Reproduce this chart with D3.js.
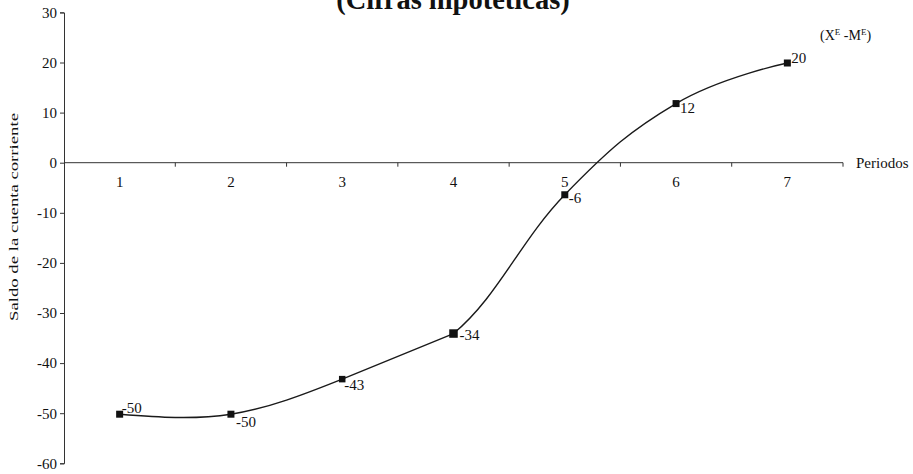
<!DOCTYPE html>
<html><head><meta charset="utf-8">
<script src="https://cdn.jsdelivr.net/npm/d3@7"></script>
<style>
html,body{margin:0;padding:0;background:#fff;}
svg{display:block;font-family:"Liberation Serif","Times New Roman",serif;}
</style></head>
<body>
<svg id="chart" width="913" height="474"></svg>
<script>
const categories = ["1","2","3","4","5","6","7"];
const values = [-50.2, -50.2, -43.2, -34.1, -6.4, 11.8, 19.9];
const valueLabels = ["-50","-50","-43","-34","-6","12","20"];
const yTicks = [30,20,10,0,-10,-20,-30,-40,-50,-60];
const titleText = "(Cifras hipotéticas)";
const yTitle = "Saldo de la cuenta corriente";
const xTitle = "Periodos";

(function(){
const svg = d3.select("#chart");
const mLeft = 64, mRight = 843, mTop = 12.4, mBottom = 463.3;
const ink = "#111", axisCol = "#333";

const x = d3.scaleBand().domain(categories).range([mLeft, mRight]);
const y = d3.scaleLinear().domain([-60, 30]).range([mBottom, mTop]);

// Title (cropped at top edge as in reference)
const title = svg.append("text")
  .attr("x", 456).attr("y", 9)
  .attr("text-anchor", "middle")
  .attr("font-size", 28.5).attr("font-weight", "bold").attr("fill", ink);
title.append("tspan").text(titleText);
title.append("tspan").attr("font-size", 12).attr("dy", -13).text("a");

// Y axis
const yAxis = d3.axisLeft(y).tickValues(yTicks).tickSize(4).tickPadding(3).tickFormat(d => String(d));
const gy = svg.append("g").attr("transform", `translate(${mLeft},0)`).call(yAxis);
gy.select(".domain").attr("stroke", axisCol);
gy.selectAll(".tick line").attr("stroke", axisCol);
gy.selectAll(".tick text").attr("font-size", 15).attr("font-family", "Liberation Serif").attr("fill", ink);

// X axis at y=0 with ticks at category boundaries
const gx = svg.append("g").attr("transform", `translate(0,${y(0)})`);
gx.append("line").attr("x1", mLeft).attr("x2", mRight).attr("stroke", axisCol);
const boundaries = categories.map(c => x(c) + x.bandwidth());
gx.selectAll("line.tk").data(boundaries).join("line").attr("class","tk")
  .attr("x1", d => d).attr("x2", d => d).attr("y1", 0).attr("y2", 4).attr("stroke", axisCol);
gx.selectAll("text.cat").data(categories).join("text").attr("class","cat")
  .attr("x", d => x(d) + x.bandwidth()/2).attr("y", 24)
  .attr("text-anchor", "middle").attr("font-size", 15).attr("fill", ink).text(d => d);
gx.append("text").attr("x", mRight + 13).attr("y", 5).attr("font-size", 15).attr("fill", ink).text(xTitle);

// Y axis title
svg.append("text").attr("transform", `translate(18,217) rotate(-90)`)
  .attr("text-anchor", "middle").attr("font-size", 13).attr("fill", ink)
  .attr("textLength", 208).attr("lengthAdjust", "spacingAndGlyphs")
  .text(yTitle);

// Series label (X^E - M^E)
const sl = svg.append("text").attr("x", 820).attr("y", 40).attr("font-size", 14).attr("fill", ink);
sl.append("tspan").text("(X");
sl.append("tspan").attr("font-size", 9).attr("dy", -5).text("E");
sl.append("tspan").attr("dy", 5).text(" -M");
sl.append("tspan").attr("font-size", 9).attr("dy", -5).text("E");
sl.append("tspan").attr("dy", 5).text(")");

// Line data
const data = categories.map((c, i) => ({c, v: values[i], l: valueLabels[i]}));
const cx = d => x(d.c) + x.bandwidth()/2;

// First part (periods 1-4), smooth
const lineA = d3.line().x(cx).y(d => y(d.v)).curve(d3.curveNatural);
svg.append("path").datum(data.slice(0, 4)).attr("d", lineA).attr("fill", "none")
  .attr("stroke", "#1a1a1a").attr("stroke-width", 1.4);

// Second part (periods 4-7), smooth, shown from period 4 onward
const x4 = cx(data[3]);
svg.append("clipPath").attr("id", "clipB").append("rect")
  .attr("x", x4).attr("y", 0).attr("width", 913 - x4).attr("height", 474);
const lineB = d3.line().x(cx).y(d => y(d.v)).curve(d3.curveCardinal.tension(-0.2));
svg.append("path").datum(data.slice(2)).attr("d", lineB).attr("fill", "none")
  .attr("clip-path", "url(#clipB)")
  .attr("stroke", "#1a1a1a").attr("stroke-width", 1.4);

// Markers
const msize = [7,7,6.5,8.5,7,7,7];
svg.selectAll("rect.m").data(data).join("rect").attr("class","m")
  .attr("x", (d,i) => cx(d) - msize[i]/2).attr("y", (d,i) => y(d.v) - msize[i]/2)
  .attr("width", (d,i) => msize[i]).attr("height", (d,i) => msize[i]).attr("fill", ink);

// Data labels
const offs = [[2,-1],[5,13],[2,11],[6,6],[4,8],[4,9],[4,0]];
svg.selectAll("text.dl").data(data).join("text").attr("class","dl")
  .attr("x", (d,i) => cx(d) + offs[i][0]).attr("y", (d,i) => y(d.v) + offs[i][1])
  .attr("font-size", 15).attr("fill", ink).text(d => d.l);
})();
</script>
</body></html>
